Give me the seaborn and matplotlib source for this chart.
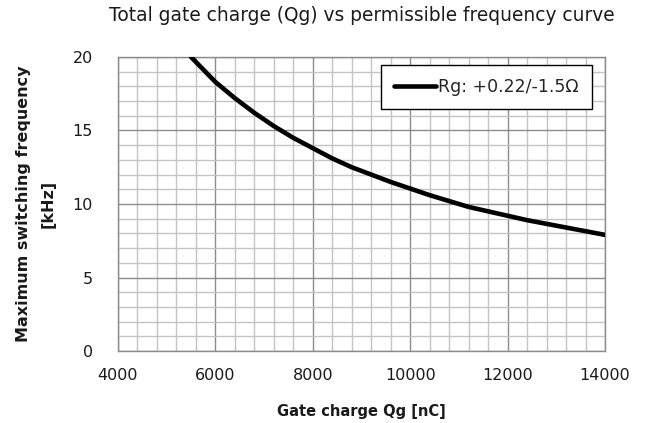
import matplotlib
matplotlib.use("Agg")
import matplotlib.pyplot as plt
from matplotlib.ticker import MultipleLocator
import seaborn as sns
import pandas as pd

# Data
gate_charge = [5500, 6000, 6400, 6800, 7200, 7600, 8000, 8400, 8800, 9200, 9600,
               10000, 10400, 10800, 11200, 11600, 12000, 12400, 12800, 13200, 13600, 14000]
max_freq = [20.0, 18.3, 17.2, 16.2, 15.3, 14.5, 13.8, 13.1, 12.5, 12.0, 11.5,
            11.05, 10.6, 10.2, 9.8, 9.5, 9.2, 8.9, 8.65, 8.4, 8.15, 7.9]
series_label = "Rg: +0.22/-1.5Ω"
x_ticks = [4000, 6000, 8000, 10000, 12000, 14000]
y_ticks = [0, 5, 10, 15, 20]

sns.set_theme(style="white")
plt.rcParams['font.family'] = ['DejaVu Sans']

df = pd.DataFrame({"Qg": gate_charge, "f": max_freq})

fig = plt.figure(figsize=(6.48, 4.23), dpi=100)
ax = fig.add_axes([118/648, 1-351/423, (605-118)/648, (351-57)/423])

sns.lineplot(data=df, x="Qg", y="f", ax=ax, color="black", linewidth=3.3,
             label=series_label, zorder=5)

ax.set_xlim(4000, 14000)
ax.set_ylim(0, 20)
ax.set_xticks(x_ticks)
ax.set_yticks(y_ticks)
ax.xaxis.set_minor_locator(MultipleLocator(400))
ax.yaxis.set_minor_locator(MultipleLocator(1))
ax.grid(which="minor", color="#c4c4c4", linewidth=1.0)
ax.grid(which="major", color="#8c8c8c", linewidth=1.0)
ax.set_axisbelow(True)
ax.tick_params(which="both", length=0, labelsize=11.5, colors="#1a1a1a")
ax.tick_params(axis="x", pad=12)
ax.tick_params(axis="y", pad=18)
for s in ax.spines.values():
    s.set_color("#8c8c8c")
    s.set_linewidth(1.0)

ax.set_xlabel("Gate charge Qg [nC]", fontsize=10.5, fontweight="bold", labelpad=15,
              color="#1a1a1a")
ax.set_ylabel("Maximum switching frequency\n[kHz]", fontsize=11.5, fontweight="bold",
              labelpad=12, linespacing=1.8, color="#1a1a1a")
ax.set_title("Total gate charge (Qg) vs permissible frequency curve", fontsize=13.4,
             pad=26, color="#1a1a1a")

leg = ax.legend(loc="upper right", fontsize=12.5, frameon=True, fancybox=False,
                edgecolor="black", handlelength=2.4, handletextpad=0.15,
                borderpad=0.75, borderaxespad=0, bbox_to_anchor=(1-13/487, 1-8/294))
leg.get_frame().set_linewidth(1.0)
leg.get_frame().set_facecolor("white")
leg.get_frame().set_alpha(1)

fig.savefig("out.png", dpi=100)
